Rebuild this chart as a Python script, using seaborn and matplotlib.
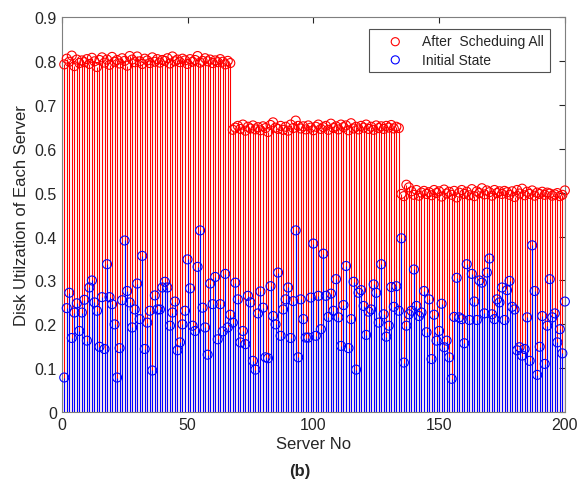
import numpy as np
import pandas as pd
import matplotlib
matplotlib.use("Agg")
import matplotlib.pyplot as plt
import seaborn as sns

# Disk utilization per server after scheduling all tasks
after_scheduling = [
    0.792, 0.805, 0.798, 0.812, 0.788, 0.803, 0.795, 0.801, 0.797, 0.804,
    0.793, 0.807, 0.799, 0.786, 0.802, 0.808, 0.796, 0.803, 0.791, 0.809,
    0.798, 0.802, 0.794, 0.806, 0.800, 0.789, 0.811, 0.803, 0.797, 0.810,
    0.799, 0.793, 0.805, 0.801, 0.795, 0.808, 0.798, 0.804, 0.796, 0.802,
    0.800, 0.806, 0.794, 0.810, 0.799, 0.803, 0.797, 0.805, 0.801, 0.793,
    0.804, 0.798, 0.802, 0.811, 0.796, 0.800, 0.806, 0.799, 0.803, 0.795,
    0.801, 0.797, 0.804, 0.798, 0.792, 0.800, 0.795,
    0.643, 0.648, 0.652, 0.645, 0.655, 0.641, 0.650, 0.646, 0.653, 0.644,
    0.649, 0.642, 0.651, 0.647, 0.638, 0.654, 0.660, 0.648, 0.645, 0.652,
    0.643, 0.650, 0.641, 0.655, 0.647, 0.664, 0.652, 0.646, 0.651, 0.644,
    0.653, 0.648, 0.642, 0.650, 0.655, 0.645, 0.649, 0.652, 0.643, 0.657,
    0.647, 0.651, 0.644, 0.655, 0.649, 0.653, 0.642, 0.658, 0.646, 0.650,
    0.644, 0.652, 0.648, 0.655, 0.645, 0.650, 0.643, 0.653, 0.647, 0.651,
    0.645, 0.652, 0.648, 0.654, 0.646, 0.650, 0.647,
    0.497, 0.492, 0.518, 0.512, 0.503, 0.495, 0.506, 0.493, 0.500, 0.504,
    0.497, 0.501, 0.494, 0.506, 0.499, 0.503, 0.491, 0.507, 0.498, 0.502,
    0.495, 0.504, 0.489, 0.500, 0.506, 0.497, 0.502, 0.494, 0.508, 0.492,
    0.503, 0.499, 0.510, 0.496, 0.505, 0.501, 0.493, 0.506, 0.499, 0.503,
    0.497, 0.504, 0.501, 0.495, 0.503, 0.490, 0.506, 0.498, 0.509, 0.494,
    0.502, 0.497, 0.505, 0.493, 0.500, 0.497, 0.502, 0.495, 0.500, 0.498,
    0.493, 0.496, 0.499, 0.492, 0.495, 0.505,
]

# Disk utilization per server in the initial state
initial_state = [
    0.079, 0.237, 0.272, 0.169, 0.227, 0.248, 0.185, 0.227, 0.256, 0.163,
    0.284, 0.300, 0.250, 0.231, 0.149, 0.262, 0.144, 0.337, 0.262, 0.246,
    0.200, 0.079, 0.146, 0.255, 0.391, 0.276, 0.250, 0.193, 0.234, 0.293,
    0.212, 0.356, 0.144, 0.204, 0.231, 0.095, 0.266, 0.234, 0.234, 0.284,
    0.297, 0.284, 0.197, 0.227, 0.252, 0.141, 0.159, 0.200, 0.231, 0.348,
    0.282, 0.197, 0.185, 0.331, 0.414, 0.238, 0.193, 0.131, 0.293, 0.246,
    0.308, 0.166, 0.246, 0.184, 0.315, 0.193, 0.222, 0.204, 0.295, 0.257,
    0.159, 0.185, 0.155, 0.265, 0.250, 0.117, 0.097, 0.225, 0.275, 0.238,
    0.125, 0.123, 0.287, 0.219, 0.200, 0.318, 0.174, 0.234, 0.257, 0.284,
    0.169, 0.253, 0.414, 0.125, 0.257, 0.212, 0.170, 0.170, 0.261, 0.384,
    0.174, 0.265, 0.189, 0.361, 0.265, 0.217, 0.270, 0.231, 0.303, 0.216,
    0.151, 0.244, 0.333, 0.146, 0.212, 0.297, 0.097, 0.272, 0.278, 0.242,
    0.176, 0.229, 0.234, 0.291, 0.272, 0.204, 0.337, 0.223, 0.172, 0.197,
    0.285, 0.240, 0.287, 0.231, 0.396, 0.113, 0.197, 0.223, 0.231, 0.325,
    0.242, 0.219, 0.227, 0.276, 0.182, 0.257, 0.121, 0.222, 0.163, 0.185,
    0.247, 0.148, 0.163, 0.125, 0.076, 0.217, 0.306, 0.216, 0.212, 0.157,
    0.337, 0.210, 0.315, 0.252, 0.210, 0.300, 0.295, 0.225, 0.318, 0.350,
    0.223, 0.212, 0.257, 0.250, 0.284, 0.210, 0.278, 0.299, 0.240, 0.234,
    0.141, 0.148, 0.129, 0.144, 0.216, 0.117, 0.380, 0.276, 0.085, 0.149,
    0.219, 0.110, 0.197, 0.303, 0.216, 0.225, 0.159, 0.189, 0.134, 0.252,
]

server_no = np.arange(1, len(initial_state) + 1)

x_ticks = [0, 50, 100, 150, 200]
y_ticks = [0, 0.1, 0.2, 0.3, 0.4, 0.5, 0.6, 0.7, 0.8, 0.9]
series_labels = ["After  Scheduing All", "Initial State"]
series_colors = ["#ff0000", "#0000ff"]

df = pd.DataFrame({
    "server": np.concatenate([server_no, server_no]),
    "util": np.concatenate([after_scheduling, initial_state]),
    "series": [series_labels[0]] * len(server_no) + [series_labels[1]] * len(server_no),
})

sns.set_style("white")
plt.rcParams["font.family"] = ["Liberation Sans", "DejaVu Sans"]

fig = plt.figure(figsize=(5.77, 4.85), dpi=100)
ax = fig.add_axes([0.107, 0.148, 0.872, 0.815])

for label, color in zip(series_labels, series_colors):
    sub = df[df["series"] == label]
    ax.vlines(sub["server"], 0, sub["util"], color=color, linewidth=0.8, zorder=2)
    sns.scatterplot(data=sub, x="server", y="util", ax=ax, marker="o",
                    s=42, facecolor="none", edgecolor=color, linewidth=0.8,
                    label=label, zorder=3, clip_on=False)

ax.set_xlim(0, 200)
ax.set_ylim(0, 0.9)
ax.set_xticks(x_ticks)
ax.set_yticks(y_ticks)
ax.set_yticklabels(["0"] + [f"{v:.1f}" for v in y_ticks[1:]])
ax.tick_params(direction="in", length=4, width=0.8, colors="#262626",
               labelsize=11.5, top=True, right=True, labelcolor="#262626")
for sp in ax.spines.values():
    sp.set_color("#7f7f7f")
    sp.set_linewidth(0.8)

ax.set_xlabel("Server No", fontsize=12, color="#262626", labelpad=3)
ax.set_ylabel("Disk Utilzation of Each Server", fontsize=12, color="#262626", labelpad=4)

leg = ax.legend(loc="upper right", bbox_to_anchor=(0.970, 0.970), borderaxespad=0,
                frameon=True, fancybox=False, edgecolor="#262626", fontsize=10,
                handlelength=3.0, handletextpad=0.45, borderpad=0.4,
                labelspacing=0.3, markerscale=0.9)
leg.get_frame().set_linewidth(0.8)
for t in leg.get_texts():
    t.set_color("#262626")

fig.text(0.52, 0.012, "(b)", ha="center", va="bottom", fontsize=12, fontweight="bold")

fig.savefig("out.png", dpi=100)
